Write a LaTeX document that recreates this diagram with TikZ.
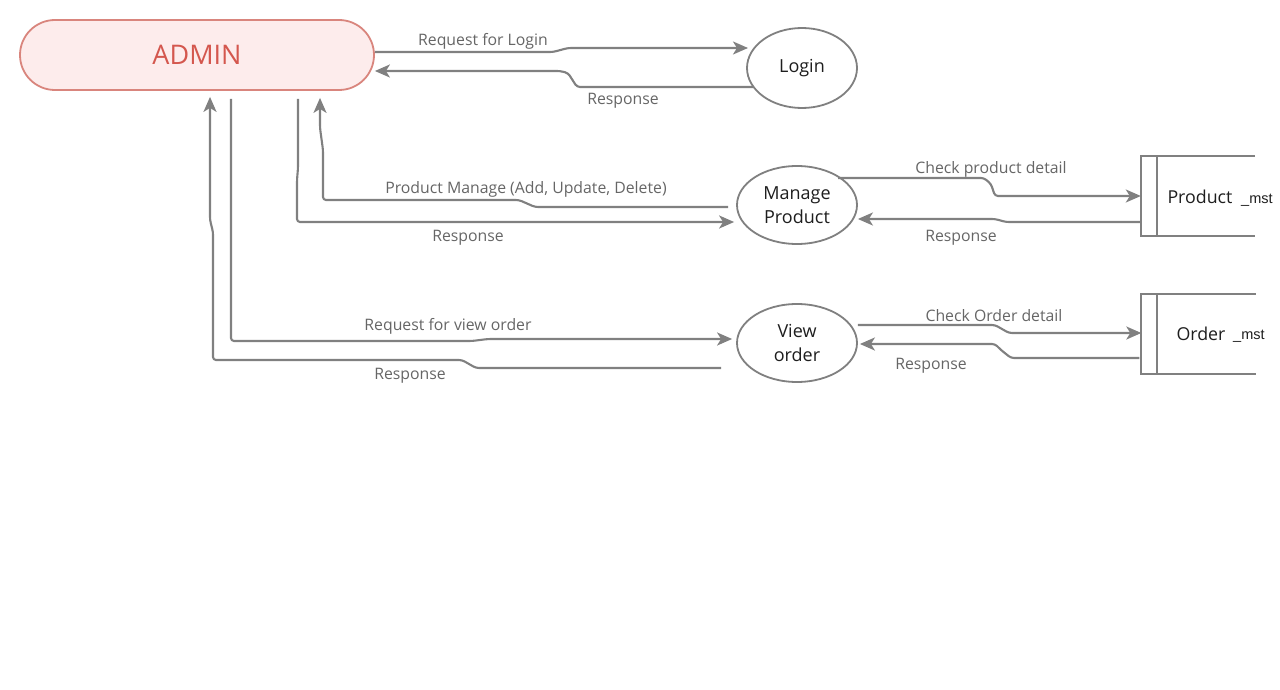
\documentclass[tikz,border=0pt]{standalone}
\usepackage{fontspec}
\setmainfont{Open Sans}
\newfontfamily\mstfont{Liberation Sans}
\usetikzlibrary{arrows.meta,shapes.geometric,calc}
\definecolor{ln}{HTML}{808080}
\definecolor{lblc}{HTML}{666666}
\definecolor{adminfill}{HTML}{FDECEC}
\definecolor{adminborder}{HTML}{D9857D}
\definecolor{admintext}{HTML}{D4574E}
\definecolor{txt}{HTML}{1E1E1E}
\begin{document}
\begin{tikzpicture}[x=1pt,y=-1pt,
  flow/.style={draw=ln,line width=2.1pt,-{Stealth[length=15pt,width=13pt,inset=4pt]},rounded corners=3pt},
  storeline/.style={draw=ln,line width=2pt},
  lbl/.style={text=lblc,font=\fontsize{15.8}{18}\selectfont,inner sep=0pt},
  proc/.style={ellipse,draw=ln,line width=1.8pt,inner sep=0pt,text=txt,align=center,font=\fontsize{18}{24.5}\selectfont},
  storebox/.style={inner sep=0pt,minimum width=114pt,minimum height=80pt},
  storetext/.style={text=txt,inner sep=0pt,anchor=base,font=\fontsize{17.8}{20}\selectfont},
  msttext/.style={text=txt,inner sep=0pt,anchor=base west,font=\mstfont\fontsize{14.5}{16}\selectfont}]
\useasboundingbox[fill=white] (0,0) rectangle (1280,690);

% nodes
\node[draw=adminborder,fill=adminfill,rounded corners=35pt,minimum width=354pt,minimum height=70pt,
      line width=1.8pt,text=admintext,font=\fontsize{27}{30}\selectfont] (admin) at (197,55) {ADMIN};
\node[proc,minimum width=110pt,minimum height=80pt] (login) at (802,68) {Login};
\node[proc,minimum width=120pt,minimum height=78pt] (mp) at (797,205) {Manage\\Product};
\node[proc,minimum width=120pt,minimum height=78pt] (vo) at (797,343) {View\\order};

\node[storebox] (prod) at (1198,196) {};
\node[storebox] (ord) at (1198.5,334) {};
\draw[storeline] (prod.north east) -- (prod.north west) -- (prod.south west) -- (prod.south east);
\draw[storeline] ($(prod.north west)+(16,0)$) -- ($(prod.south west)+(16,0)$);
\draw[storeline] (ord.north east) -- (ord.north west) -- (ord.south west) -- (ord.south east);
\draw[storeline] ($(ord.north west)+(16,0)$) -- ($(ord.south west)+(16,0)$);
\node[storetext] (prodt) at (1200,203) {Product};
\node[msttext] (prodm) at (1241,203) {\_mst};
\node[storetext] (ordt) at (1201,340) {Order};
\node[msttext] (ordm) at (1233,339) {\_mst};

% connectors
\draw[flow] (admin.east |- 0,52) -- (553,52) -- (568,48) -- ($(login.center)+(-54,-20)$);
\draw[flow] ($(login.center)+(-49,19)$) -- (577,87) -- (568,73) -- (560,71) -- (admin.east |- 0,71);
\draw[flow] ($(mp.west)+(-8,2)$) -- (535,207) -- (519,200) -- (323,200) -- (323,150) -- (320,128) -- ($(admin.south)+(123,7)$);
\draw[flow] ($(admin.south)+(101,8)$) -- (298,168) -- (297,180) -- (297,222) -- ($(mp.west)+(-2,17)$);
\draw[flow] ($(admin.south)+(34,8)$) -- (231,341) -- (472,341) -- (488,339) -- ($(vo.west)+(-4,-4)$);
\draw[flow] ($(vo.west)+(-15,25)$) -- (476,368) -- (462,360) -- (213,360) -- (213,232) -- (210,220) -- ($(admin.south)+(13,6)$);
\draw[flow] ($(mp.center)+(41,-27)$) -- (984,178) -- (991,184) -- (995,196) -- (prod.west);
\draw[flow] ($(prod.west)+(0,26)$) -- (1006,222) -- (995,219) -- ($(mp.east)+(0,14)$);
\draw[flow] ($(vo.east)+(0,-18)$) -- (995,325) -- (1009,333) -- ($(ord.west)+(0,-1)$);
\draw[flow] ($(ord.west)+(-2,24)$) -- (1011,358) -- (1001,350) -- (995,344) -- ($(vo.east)+(2,1)$);

% labels
\node[lbl] (l1) at (483,41) {Request for Login};
\node[lbl] (l2) at (623,101) {Response};
\node[lbl] (l3) at (526,189) {Product Manage (Add, Update, Delete)};
\node[lbl] (l4) at (468,238) {Response};
\node[lbl] (l5) at (448,326) {Request for view order};
\node[lbl] (l6) at (410,376) {Response};
\node[lbl] (l7) at (991,169) {Check product detail};
\node[lbl] (l8) at (961,238) {Response};
\node[lbl] (l9) at (994,316) {Check Order detail};
\node[lbl] (l10) at (931,366) {Response};
\end{tikzpicture}
\end{document}
